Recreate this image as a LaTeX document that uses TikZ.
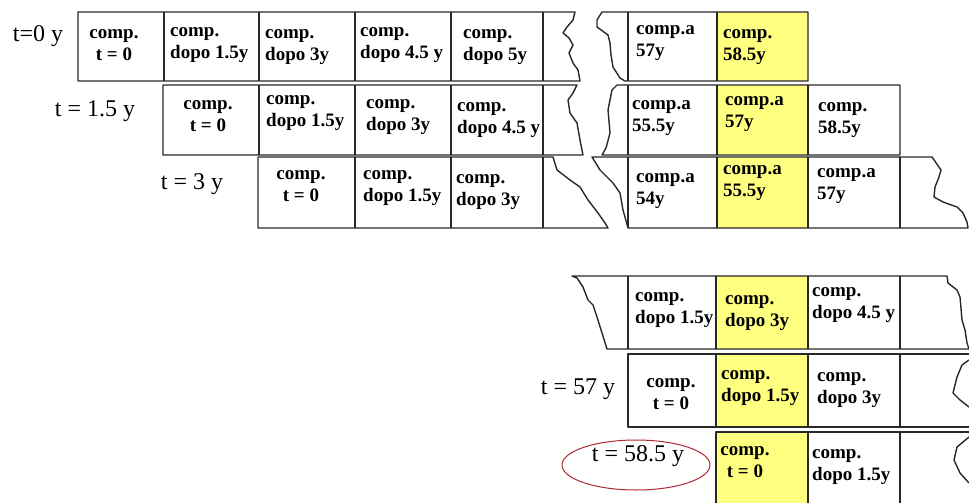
\documentclass[tikz,border=0pt]{standalone}
\usepackage{fontspec}
\setmainfont{Liberation Serif}
\definecolor{hlyellow}{RGB}{255,255,128}
\definecolor{ringred}{RGB}{175,40,50}
\definecolor{linegray}{RGB}{40,40,40}
\begin{document}
\begin{tikzpicture}[x=1pt,y=-1pt,
  grid/.style={draw=linegray,line width=1.4pt,line join=round},
  hl/.style={fill=hlyellow},
  txt/.style={font=\bfseries\fontsize{19}{22}\selectfont,inner sep=0pt,align=left,anchor=west},
  ctxt/.style={font=\bfseries\fontsize{19}{22}\selectfont,inner sep=0pt,align=center},
  lab/.style={font=\fontsize{24}{28}\selectfont,inner sep=0pt}]
\useasboundingbox (0,0) rectangle (969,503);
\clip (0,0) rectangle (969,503);

% highlighted cells
\fill[hl] (717,12) rectangle (808,81);
\fill[hl] (717,85) rectangle (808,155);
\fill[hl] (717,157) rectangle (808,228);
\fill[hl] (716,276) rectangle (808,349);
\fill[hl] (716,354) rectangle (808,427);
\fill[hl] (716,432) rectangle (808,510);

% ---- row t = 0 ----
\draw[grid] (78,12) -- (575,12) -- (573,20) -- (567,27) -- (563,33) -- (569,38)
  -- (573,45) -- (569,53) -- (573,63) -- (578,70) -- (580,81) -- (78,81) -- cycle;
\foreach \x in {164,259,355,451,543} \draw[grid] (\x,12) -- (\x,81);
\draw[grid] (625,81) -- (620,78) -- (613,67) -- (611,55) -- (610,43) -- (608,35)
  -- (597,27) -- (597,20) -- (602,12) -- (808,12) -- (808,81) -- cycle;
\foreach \x in {628,717} \draw[grid] (\x,12) -- (\x,81);

% ---- row t = 1.5 ----
\draw[grid] (163,85) -- (577,85) -- (573,93) -- (568,100) -- (570,113) -- (577,123)
  -- (580,140) -- (583,155) -- (163,155) -- cycle;
\foreach \x in {259,355,451,543} \draw[grid] (\x,85) -- (\x,155);
\draw[grid] (602,155) -- (606,148) -- (610,133) -- (608,110) -- (612,90) -- (617,85)
  -- (900,85) -- (900,155) -- cycle;
\foreach \x in {628,717,808} \draw[grid] (\x,85) -- (\x,155);

% ---- row t = 3 ----
\draw[grid] (258,157) -- (553,157) -- (557,170) -- (570,180) -- (580,187) -- (588,200)
  -- (598,213) -- (605,223) -- (608,228) -- (258,228) -- cycle;
\foreach \x in {355,451,543} \draw[grid] (\x,157) -- (\x,228);
\draw[grid] (592,157) -- (932,157) -- (941,170) -- (939,177) -- (935,187) -- (934,197)
  -- (943,202) -- (957,207) -- (963,213) -- (967,222) -- (968,228) -- (628,228)
  -- (623,210) -- (620,193) -- (613,183) -- (600,170) -- cycle;
\foreach \x in {628,717,808,900} \draw[grid] (\x,157) -- (\x,228);

% ---- rows near t = 57 ----
\draw[grid] (572,276) -- (947,276) -- (948,283) -- (957,290) -- (960,297) -- (962,320)
  -- (965,330) -- (967,343) -- (969,349) -- (607,349) -- (602,333) -- (597,317)
  -- (593,305) -- (588,300) -- (583,287) -- (577,278) -- cycle;
\foreach \x in {628,716,808,900} \draw[grid] (\x,276) -- (\x,349);

\draw[grid] (969,354) -- (628,354) -- (628,427) -- (969,427);
\draw[grid] (969,360) -- (962,365) -- (957,377) -- (953,393) -- (960,400) -- (969,407);
\foreach \x in {716,808,900} \draw[grid] (\x,354) -- (\x,427);

\draw[grid] (716,510) -- (716,432) -- (969,432);
\draw[grid] (969,437) -- (957,447) -- (954,460) -- (960,473) -- (969,483);
\foreach \x in {808,900} \draw[grid] (\x,432) -- (\x,510);

% ---- cell texts ----
\node[ctxt] (a1) at (114,45) {comp.\\t = 0};
\node[txt] (a2) at (170,45) {comp.\\dopo 1.5y};
\node[txt] (a3) at (265,47) {comp.\\dopo 3y};
\node[txt] (a4) at (360,45) {comp.\\dopo 4.5 y};
\node[txt] (a5) at (463,47) {comp.\\dopo 5y};
\node[txt] (a6) at (636,43) {comp.a\\57y};
\node[txt] (a7) at (723,47) {comp.\\58.5y};

\node[ctxt] (b1) at (208,116) {comp.\\t = 0};
\node[txt] (b2) at (266,113) {comp.\\dopo 1.5y};
\node[txt] (b3) at (366,117) {comp.\\dopo 3y};
\node[txt] (b4) at (457,120) {comp.\\dopo 4.5 y};
\node[txt] (b5) at (632,118) {comp.a\\55.5y};
\node[txt] (b6) at (725,114) {comp.a\\57y};
\node[txt] (b7) at (818,120) {comp.\\58.5y};

\node[ctxt] (c1) at (301,186) {comp.\\t = 0};
\node[txt] (c2) at (363,188) {comp.\\dopo 1.5y};
\node[txt] (c3) at (456,192) {comp.\\dopo 3y};
\node[txt] (c4) at (636,191) {comp.a\\54y};
\node[txt] (c5) at (723,183) {comp.a\\55.5y};
\node[txt] (c6) at (817,186) {comp.a\\57y};

\node[txt] (d1) at (635,310) {comp.\\dopo 1.5y};
\node[txt] (d2) at (725,313) {comp.\\dopo 3y};
\node[txt] (d3) at (812,305) {comp.\\dopo 4.5 y};

\node[ctxt] (e1) at (671,394) {comp.\\t = 0};
\node[txt] (e2) at (721,388) {comp.\\dopo 1.5y};
\node[txt] (e3) at (817,390) {comp.\\dopo 3y};

\node[ctxt] (f1) at (745,462) {comp.\\t = 0};
\node[txt] (f2) at (812,467) {comp.\\dopo 1.5y};

% ---- time labels ----
\node[lab] (t0) at (38,36) {t=0 y};
\node[lab] (t1) at (95,111) {t = 1.5 y};
\node[lab] (t3) at (192,184) {t = 3 y};
\node[lab] (t57) at (578,389) {t = 57 y};
\node[lab] (t585) at (638,456) {t = 58.5 y};
\draw[ringred,line width=1pt] (636,465) ellipse [x radius=74,y radius=25];
\end{tikzpicture}
\end{document}
